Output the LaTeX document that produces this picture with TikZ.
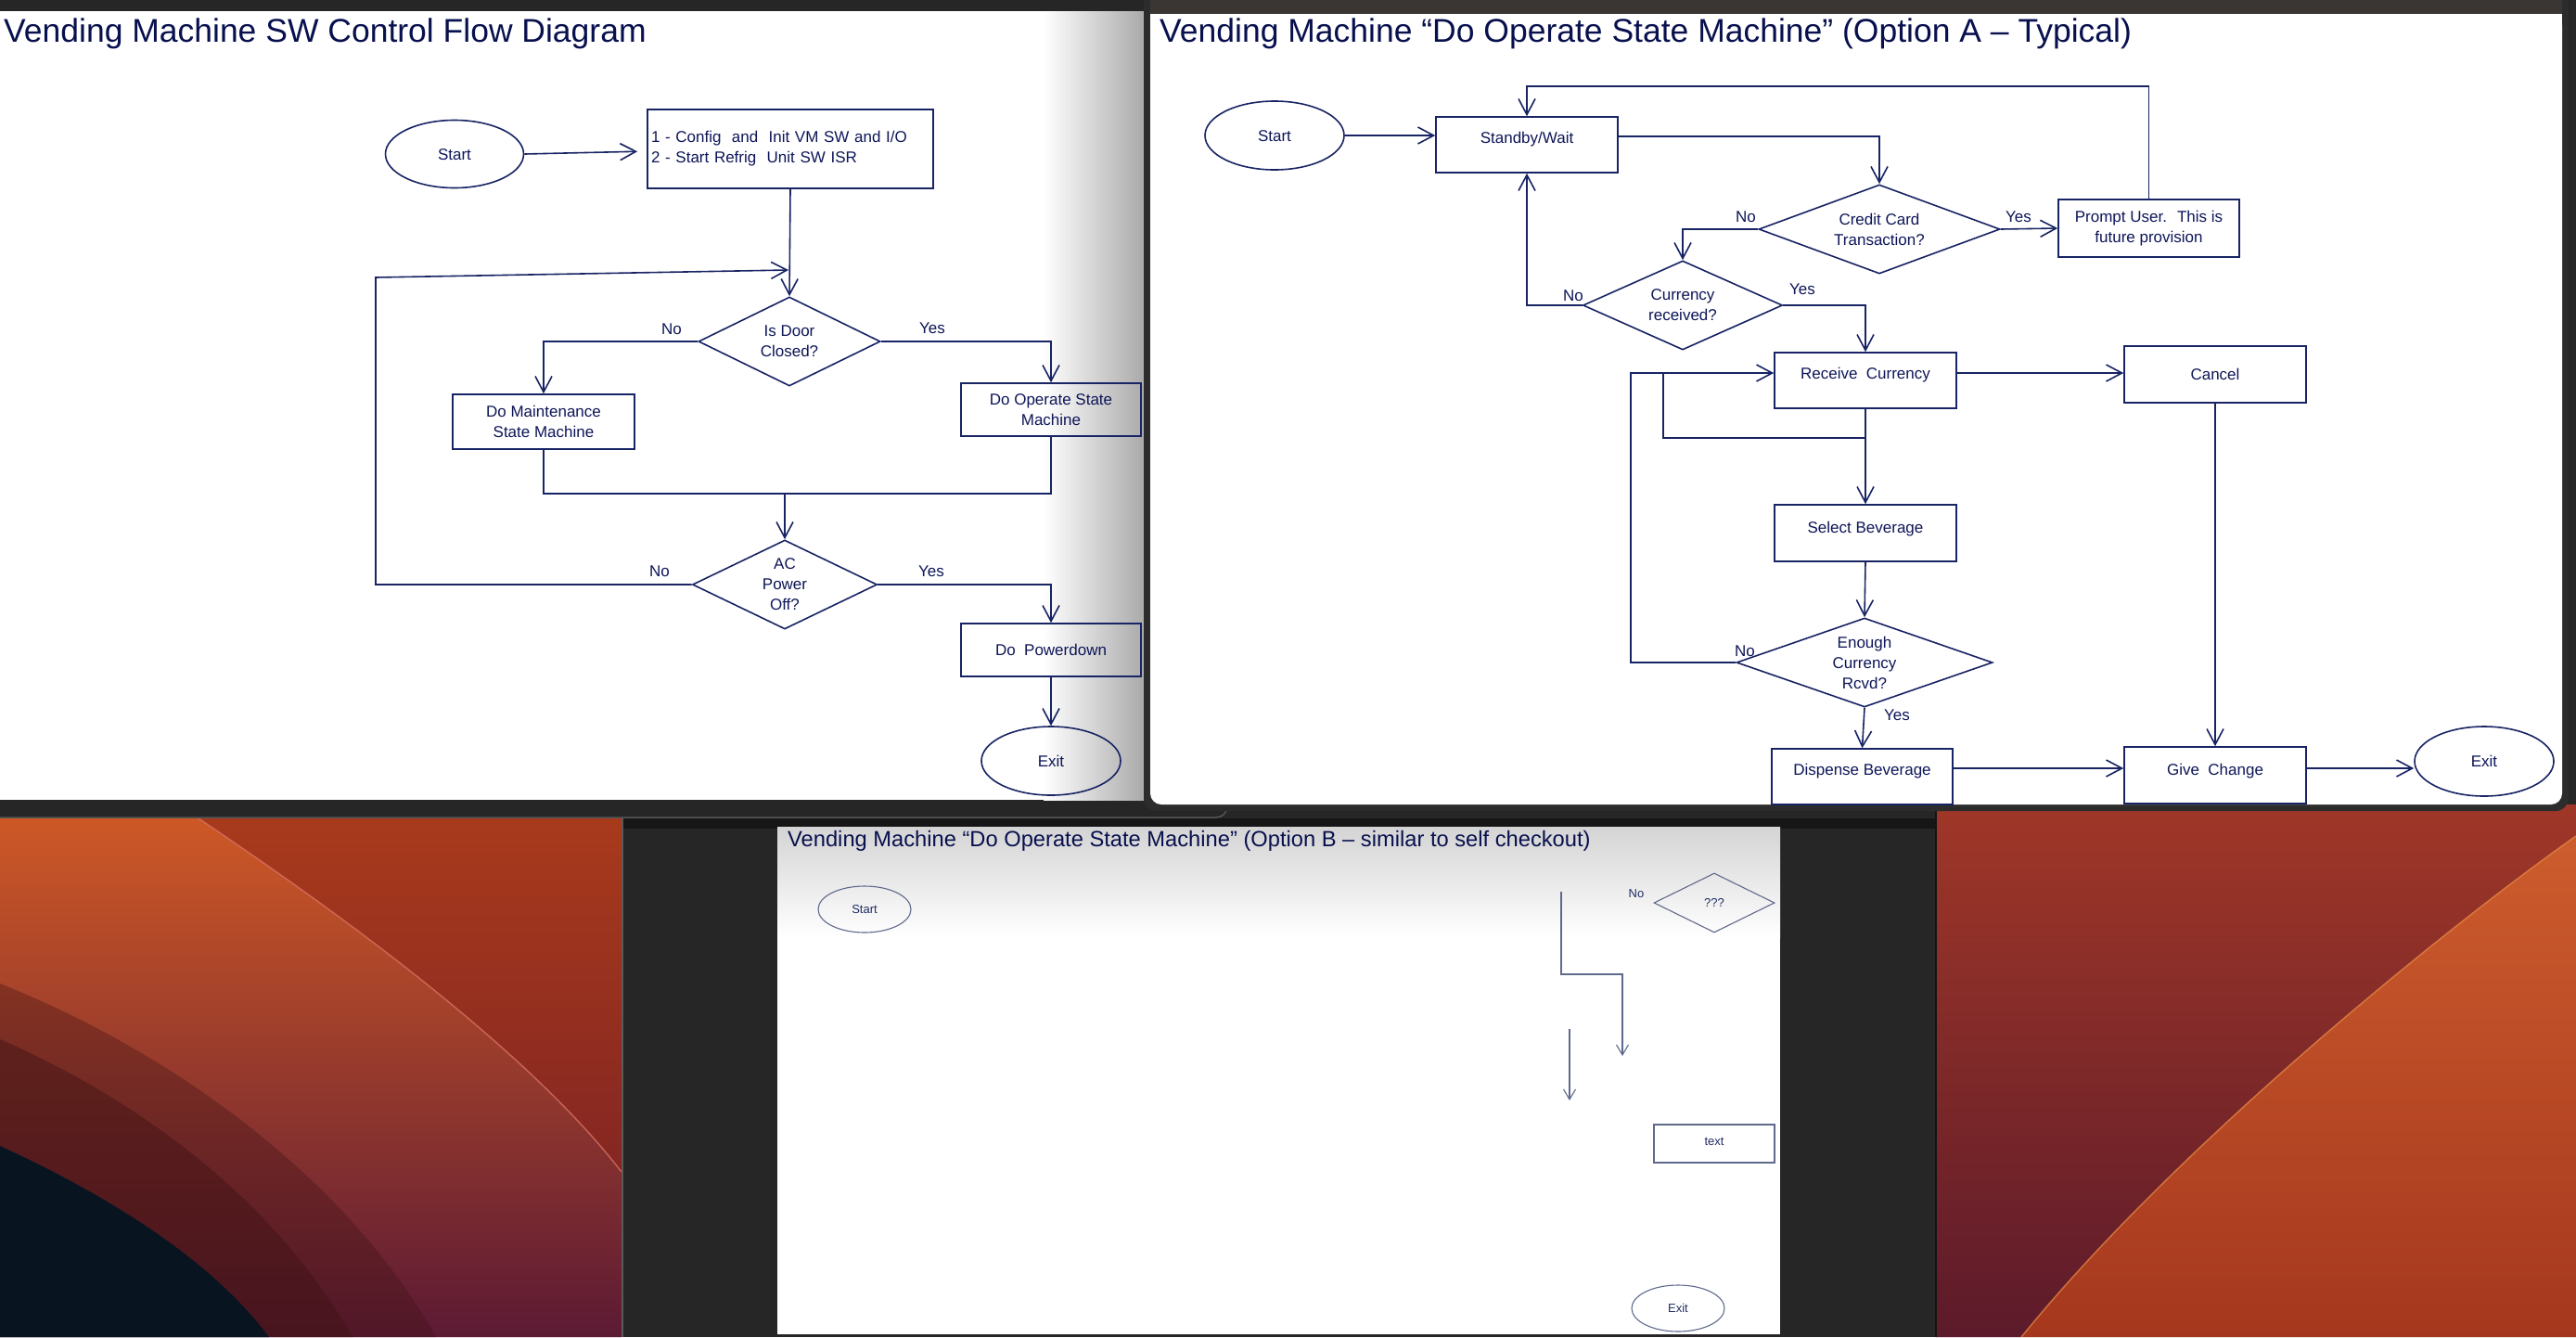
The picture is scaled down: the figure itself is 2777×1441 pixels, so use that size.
\documentclass[tikz,border=0pt]{standalone}
\usepackage{fontspec}
\setmainfont{Liberation Sans}
\usetikzlibrary{shapes.geometric,arrows.meta}
\definecolor{tc}{RGB}{14,22,88}
\definecolor{lc}{RGB}{24,36,100}
\definecolor{ttc}{RGB}{8,16,78}
\definecolor{dkbg}{RGB}{38,38,38}
\definecolor{w3l}{RGB}{95,105,140}
\definecolor{w3t}{RGB}{35,45,100}
\definecolor{wpA1}{RGB}{205,88,38}
\definecolor{wpA2}{RGB}{92,26,52}
\definecolor{wpB1}{RGB}{168,58,28}
\definecolor{wpB2}{RGB}{132,38,34}
\definecolor{wpC1}{RGB}{160,55,40}
\definecolor{wpC2}{RGB}{92,26,42}
\definecolor{wpD1}{RGB}{205,92,45}
\definecolor{wpD2}{RGB}{165,55,30}
\definecolor{cA}{RGB}{62,18,20}
\definecolor{cNavy}{RGB}{8,20,32}
\definecolor{cHlA}{RGB}{225,120,105}
\definecolor{cHlB}{RGB}{235,140,70}
\definecolor{cGa}{RGB}{90,90,90}
\definecolor{cGb}{RGB}{20,20,20}
\definecolor{cGc}{RGB}{85,85,85}
\definecolor{cGd}{RGB}{22,22,22}
\definecolor{cGe}{RGB}{44,44,44}
\definecolor{cTop}{RGB}{58,54,52}
\definecolor{cShadA}{RGB}{170,170,170}
\definecolor{cShadB}{RGB}{212,212,212}
\newcommand\mydiag{\fontsize{17}{22}\selectfont}
\newcommand\mytitleA{\fontsize{35.5}{40}\selectfont}
\newcommand\mytitleB{\fontsize{23.7}{28}\selectfont}
\newcommand\mysmall{\fontsize{13}{16}\selectfont}
\begin{document}
\begin{tikzpicture}[x=1pt, y=-1pt,
  ln/.style={draw=lc, line width=1.6pt},
  arr/.style={ln, -{Straight Barb[length=17pt, width=18pt]}},
  shp/.style={draw=lc, line width=1.6pt, inner sep=0pt, text=tc, font=\mydiag, align=center},
  boxn/.style n args={2}{shp, rectangle, minimum width=#1pt, minimum height=#2pt},
  ovl/.style n args={2}{shp, ellipse, minimum width=#1pt, minimum height=#2pt},
  dmd/.style n args={3}{shp, diamond, minimum width=#1pt, minimum height=#2pt, aspect=#3},
  txh/.style={text height=12pt, text depth=#1},
  txh/.default=0pt,
  lbl/.style={inner sep=0pt, text=tc, font=\mydiag, text height=12pt, text depth=0pt},
  ttl/.style={anchor=base west, inner sep=0pt, text=ttc},
  ln3/.style={draw=w3l, line width=1.1pt},
  arr3/.style={ln3, -{Straight Barb[length=11pt, width=13pt]}},
  shp3/.style={draw=w3l, line width=1.1pt, inner sep=0pt, text=w3t, font=\mysmall, text height=9.3pt, text depth=0pt},
  lbl3/.style={inner sep=0pt, text=w3t, font=\mysmall, text height=9.3pt, text depth=0pt},
]
\useasboundingbox (0,0) rectangle (2777,1441);
\fill[dkbg] (0,0) rectangle (2777,1441);

% ---------- wallpaper left ----------
\shade[top color=wpA1, bottom color=wpA2] (0,882) -- (214,882) .. controls (330,960) and (560,1120) .. (670,1263) -- (670,1441) -- (0,1441) -- cycle;
\shade[top color=wpB1, bottom color=wpB2] (214,882) -- (670,882) -- (670,1263) .. controls (560,1120) and (330,960) .. (214,882) -- cycle;
\fill[cA, opacity=.35] (0,1060) .. controls (200,1140) and (380,1280) .. (470,1441) -- (0,1441) -- cycle;
\fill[cA, opacity=.45] (0,1120) .. controls (160,1190) and (300,1300) .. (380,1441) -- (0,1441) -- cycle;
\fill[cNavy] (0,1235) .. controls (120,1290) and (230,1360) .. (290,1441) -- (0,1441) -- cycle;
\draw[cHlA, line width=1.5pt, opacity=.7] (214,882) .. controls (330,960) and (560,1120) .. (670,1263);
\draw[cGa, line width=1.5pt] (671,882) -- (671,1441);

% ---------- wallpaper right ----------
\shade[top color=wpC1, bottom color=wpC2] (2087,867) -- (2777,867) -- (2777,901) .. controls (2650,990) and (2350,1230) .. (2179,1441) -- (2087,1441) -- cycle;
\shade[top color=wpD1, bottom color=wpD2] (2777,901) .. controls (2650,990) and (2350,1230) .. (2179,1441) -- (2777,1441) -- cycle;
\draw[cHlB, line width=1.5pt, opacity=.7] (2777,901) .. controls (2650,990) and (2350,1230) .. (2179,1441);
\draw[cGb, line width=2pt] (2087,867) -- (2087,1441);

% ---------- window 1 ----------
\fill[white] (0,12) rectangle (1233,862);
\shade[left color=white, right color=cShadA] (1125,12) rectangle (1233,862);
\draw[cGc, line width=1.5pt, rounded corners=12pt] (0,881) -- (1323,881) -- (1323,862);

\node[ttl, font=\mytitleA] (t1) at (4,45) {Vending Machine SW Control Flow Diagram};

\node[ovl={149}{73}, txh] (s1) at (490,166) {Start};
\node[boxn={308}{85}, align=left, text width=300pt] (cfg) at (852,160.5) {1 - Config~ and~ Init VM SW and I/O\\2 - Start Refrig~ Unit SW ISR};
\node[dmd={196}{96}{2.04}] (d1) at (851,368) {Is Door\\Closed?};
\node[boxn={196}{59}] (mnt) at (586,454.5) {Do Maintenance\\State Machine};
\node[boxn={194}{57}] (opr) at (1133,441.5) {Do Operate State\\Machine};
\node[dmd={199}{96}{2.07}] (d2) at (846,630) {AC\\Power\\Off?};
\node[boxn={194}{57}, txh] (pwr) at (1133,700.5) {Do~ Powerdown};
\node[ovl={150}{74}, txh] (x1) at (1133,820) {Exit};

\node[lbl] (n1) at (724,354) {No};
\node[lbl] (y1) at (1005,353) {Yes};
\node[lbl] (n2) at (711,615) {No};
\node[lbl] (y2) at (1004,615) {Yes};

\coordinate (lp) at (405,299);
\coordinate (j1) at (850,291);
\coordinate (mg) at (846,532);

\draw[arr, shorten >=10pt] (s1.east) -- ([yshift=-2.5pt]cfg.west);
\draw[arr] (cfg.south) -- (d1.north);
\draw[arr] (d1.west) -| (mnt.north);
\draw[arr] (d1.east) -| (opr.north);
\draw[ln] (mnt.south) |- (mg) -| (opr.south);
\draw[arr] (mg) -- (d2.north);
\draw[arr] (d2.west) -| (lp) -- (j1);
\draw[arr] (d2.east) -| (pwr.north);
\draw[arr] (pwr.south) -- (x1.north);

% ---------- window 3 ----------
\fill[cGd] (672,882) rectangle (2086,893);
\fill[white] (838,891) rectangle (1919,1438);
\shade[top color=cShadB, bottom color=white] (838,891) rectangle (1919,1010);

\node[ttl, font=\mytitleB] (t3) at (849,912) {Vending Machine “Do Operate State Machine” (Option B – similar to self checkout)};

\node[shp3, ellipse, minimum width=100pt, minimum height=50pt] (s3) at (932,980) {Start};
\node[shp3, diamond, minimum width=130pt, minimum height=64pt, aspect=2] (d3) at (1848,973) {???};
\node[shp3, rectangle, minimum width=130pt, minimum height=41pt, text depth=6pt] (tb) at (1848,1232.5) {text};
\node[shp3, ellipse, minimum width=100pt, minimum height=50pt] (x3) at (1809,1410) {Exit};
\node[lbl3] (n3) at (1764,963) {No};

\coordinate (b1) at (1683,961);
\coordinate (b2) at (1683,1050);
\coordinate (b3) at (1749,1050);
\coordinate (b4) at (1749,1138);
\coordinate (c1) at (1692,1109);
\coordinate (c2) at (1692,1186);
\draw[arr3] (b1) -- (b2) -- (b3) -- (b4);
\draw[arr3] (c1) -- (c2);

% ---------- window 2 ----------
\fill[cGe, rounded corners=14pt] (1233,0) rectangle (2769,874);
\fill[cGe] (1233,0) rectangle (2769,40);
\fill[cTop] (1240,0) rectangle (2762,15);
\fill[white, rounded corners=12pt] (1240,15) rectangle (2762,867);
\fill[white] (1240,15) rectangle (2762,60);

\node[ttl, font=\mytitleA] (t2) at (1250,45) {Vending Machine “Do Operate State Machine” (Option A – Typical)};

\node[ovl={150}{74}, txh] (s2) at (1374,146) {Start};
\node[boxn={196}{60}, txh=16pt] (sw) at (1646,156) {Standby/Wait};
\node[dmd={260}{96}{2.7}] (cc) at (2026,247) {Credit Card\\Transaction?};
\node[boxn={195}{62}] (pu) at (2316.5,246) {Prompt User.~ This is\\future provision};
\node[dmd={215}{96}{2.24}] (cr) at (1814,329) {Currency\\received?};
\node[boxn={196}{60}, txh=16pt] (rc) at (2011,410) {Receive~ Currency};
\node[boxn={196}{61}, txh] (cn) at (2388,403.5) {Cancel};
\node[boxn={196}{61}, txh=12pt] (sb) at (2011,574.5) {Select Beverage};
\node[dmd={276}{96}{2.875}] (en) at (2010,714) {Enough\\Currency\\Rcvd?};
\node[boxn={195}{60}, txh=16pt] (db) at (2007.5,837) {Dispense Beverage};
\node[boxn={196}{61}, txh=13pt] (gc) at (2388,835.5) {Give~ Change};
\node[ovl={150}{75}, txh] (x2) at (2678,820.5) {Exit};

\node[lbl] (y3) at (2176,233) {Yes};
\node[lbl] (n4) at (1882,233) {No};
\node[lbl] (n5) at (1696,318) {No};
\node[lbl] (y4) at (1943,311) {Yes};
\node[lbl] (n6) at (1881,701) {No};
\node[lbl] (y5) at (2045,770) {Yes};

\coordinate (tp) at (0,93);
\coordinate (lx1) at (1758,402);
\coordinate (ib) at (1793,472);
\coordinate (lx2) at (1793,402);

\draw[arr] (s2.east) -- (s2.east -| sw.west);
\draw[arr] ([yshift=9pt]sw.east) -| (cc.north);
\draw[arr] (cc.east) -- (pu.west);
\draw[arr] (pu.north) -- (pu.north |- tp) -| (sw.north);
\draw[arr] (cc.west) -| (cr.north);
\draw[arr] (cr.west) -| (sw.south);
\draw[arr] (cr.east) -| (rc.north);
\draw[arr] ([yshift=8pt]rc.east) -- ([yshift=8pt]rc.east -| cn.west);
\draw[ln] (rc.south) |- (ib) -- (lx2);
\draw[arr] (en.west) -| (lx1) -- ([yshift=8pt]rc.west);
\draw[arr] (rc.south) -- (sb.north);
\draw[arr] (sb.south) -- (en.north);
\draw[arr] (en.south) -- (db.north);
\draw[arr] (cn.south) -- (gc.north);
\draw[arr] ([yshift=9pt]db.east) -- ([yshift=9pt]db.east -| gc.west);
\draw[arr] ([yshift=7.5pt]gc.east) -- ([yshift=7.5pt]gc.east -| x2.west);
\end{tikzpicture}
\end{document}
